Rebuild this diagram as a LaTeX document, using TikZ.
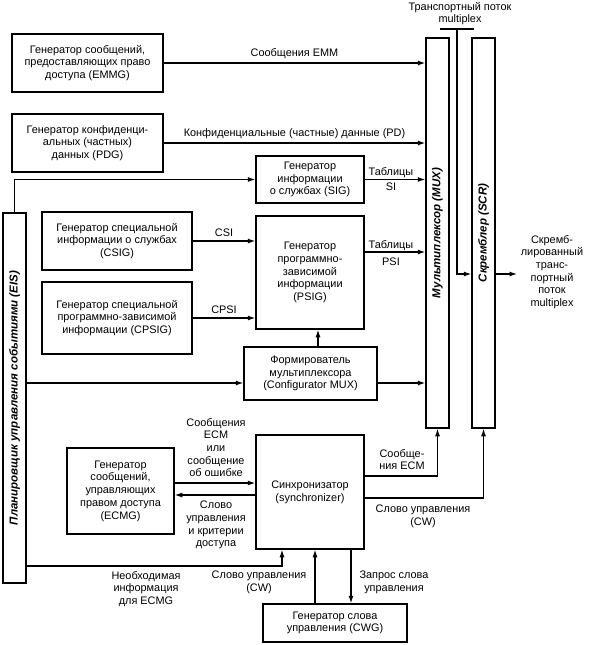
\documentclass[tikz,border=0pt]{standalone}
\usepackage{fontspec}
\setmainfont{Liberation Sans}
\usetikzlibrary{arrows.meta,calc}
\begin{document}
\begin{tikzpicture}[x=1pt,y=-1pt,
  font=\fontsize{10.9}{12.7}\selectfont,
  box/.style={draw,line width=1.5pt,inner sep=0pt,align=center},
  arr/.style={line width=1.1pt,-{Latex[length=7.5pt,width=5pt]}},
  ln/.style={line width=1.1pt},
  lab/.style={align=center,inner sep=0pt},
  vlab/.style={rotate=90,font=\fontsize{11.5}{13}\selectfont\bfseries\itshape,inner sep=0pt}]
\useasboundingbox (0,0) rectangle (589,645);
% boxes
\node[box,minimum width=151pt,minimum height=58pt] (EMMG) at (87.5,63) {Генератор сообщений,\\предоставляющих право\\доступа (EMMG)};
\node[box,minimum width=151pt,minimum height=58pt] (PDG) at (87.5,143) {Генератор конфиденци-\\альных (частных)\\данных (PDG)};
\node[box,minimum width=108pt,minimum height=47pt] (SIG) at (310,179.5) {Генератор\\информации\\о службах (SIG)};
\node[box,minimum width=150pt,minimum height=58pt] (CSIG) at (117,241) {Генератор специальной\\информации о службах\\(CSIG)};
\node[box,minimum width=108pt,minimum height=113pt] (PSIG) at (310,272.5) {Генератор\\программно-\\зависимой\\информации\\(PSIG)};
\node[box,minimum width=150pt,minimum height=72pt] (CPSIG) at (117,318) {Генератор специальной\\программно-зависимой\\информации (CPSIG)};
\node[box,minimum width=133pt,minimum height=53pt] (CFG) at (310.5,373.5) {Формирователь\\мультиплексора\\(Configurator MUX)};
\node[box,minimum width=107pt,minimum height=86pt] (ECMG) at (120.5,491) {Генератор\\сообщений,\\управляющих\\правом доступа\\(ECMG)};
\node[box,minimum width=108pt,minimum height=114pt] (SYN) at (310,492) {Синхронизатор\\(synchronizer)};
\node[box,minimum width=144pt,minimum height=38pt] (CWG) at (335,623) {Генератор слова\\управления (CWG)};
\node[box,minimum width=23pt,minimum height=370pt] (EIS) at (14.5,398) {};
\node[box,minimum width=23pt,minimum height=390pt] (MUX) at (437.5,233) {};
\node[box,minimum width=23pt,minimum height=390pt] (SCR) at (483.5,233) {};
\node[vlab] (EIStxt) at (EIS.center) {Планировщик управления событиями (EIS)};
\node[vlab] (MUXtxt) at (MUX.center) {Мультиплексор (MUX)};
\node[vlab] (SCRtxt) at (SCR.center) {Скремблер (SCR)};
% top transport stream
\node[lab] (TS) at (460,13.5) {Транспортный поток\\multiplex};
\coordinate (tieL) at (440,29);
\coordinate (tieR) at (474,29);
\coordinate (tieM) at (457,29);
\draw[ln] (tieL) -- (tieR);
\draw[arr] (tieM) -- (457,274) -- (457,274 -| SCR.west);
% output
\coordinate (out) at (517,274);
\draw[arr] (SCR.east |- out) -- (out);
\node[lab] (OUT) at (552,272) {Скремб-\\лированный\\транс-\\портный\\поток\\multiplex};
% connections into MUX
\draw[arr] (EMMG.east) -- node[lab,above=4pt] {Сообщения EMM} (EMMG.east -| MUX.west);
\draw[arr] (PDG.east) -- node[lab,above=4pt] {Конфиденциальные (частные) данные (PD)} (PDG.east -| MUX.west);
\draw[arr] (EIS.north) |- (SIG.west);
\draw[arr] (SIG.east) -- (SIG.east -| MUX.west);
\node[lab] at (391,173) {Таблицы};
\node[lab] at (391,187) {SI};
\draw[arr] (CSIG.east) -- node[lab,above=4pt] {CSI} (CSIG.east -| PSIG.west);
\draw[arr] (CPSIG.east) -- node[lab,above=4pt] {CPSI} (CPSIG.east -| PSIG.west);
\draw[arr] ([yshift=20.5pt]PSIG.east) -- ([yshift=20.5pt]PSIG.east -| MUX.west);
\node[lab] at (391,246) {Таблицы};
\node[lab] at (391,262) {PSI};
\draw[arr] ([xshift=7.5pt]CFG.north) -- ([xshift=7.5pt]CFG.north |- PSIG.south);
\draw[arr] ([yshift=-9.5pt]CFG.west -| EIS.east) -- ([yshift=-9.5pt]CFG.west);
\draw[arr] ([yshift=-9.5pt]CFG.east) -- ([yshift=-9.5pt]CFG.east -| MUX.west);
% ECMG <-> synchronizer
\draw[arr] ([yshift=8pt]ECMG.east) -- ([yshift=8pt]ECMG.east -| SYN.west);
\draw[arr] ([yshift=-4pt]ECMG.east -| SYN.west) -- ([yshift=-4pt]ECMG.east);
\node[lab] at (216,447.5) {Сообщения\\ECM\\или\\сообщение\\об ошибке};
\node[lab] at (216,525) {Слово\\управления\\и критерии\\доступа};
% EIS -> synchronizer
\coordinate (eisc) at (282,566);
\draw[arr] (EIS.east |- eisc) -- (eisc) -- (eisc |- SYN.south);
\node[lab] at (146,589) {Необходимая\\информация\\для ECMG};
% CWG <-> synchronizer
\draw[arr] (315,0 |- CWG.north) -- (315,0 |- SYN.south);
\node[lab] at (259,582.5) {Слово управления\\(CW)};
\draw[arr] (351,0 |- SYN.south) -- (351,0 |- CWG.north);
\node[lab] at (394,582.5) {Запрос слова\\управления};
% synchronizer -> MUX, SCR
\coordinate (ecm) at (437.5,476);
\draw[arr] (SYN.east |- ecm) -- (ecm) -- (MUX.south);
\node[lab] at (402,459.5) {Сообще-\\ния ECM};
\coordinate (cw) at (483.5,498);
\draw[arr] (SYN.east |- cw) -- (cw) -- (SCR.south);
\node[lab] at (423,516.5) {Слово управления\\(CW)};
\end{tikzpicture}
\end{document}
